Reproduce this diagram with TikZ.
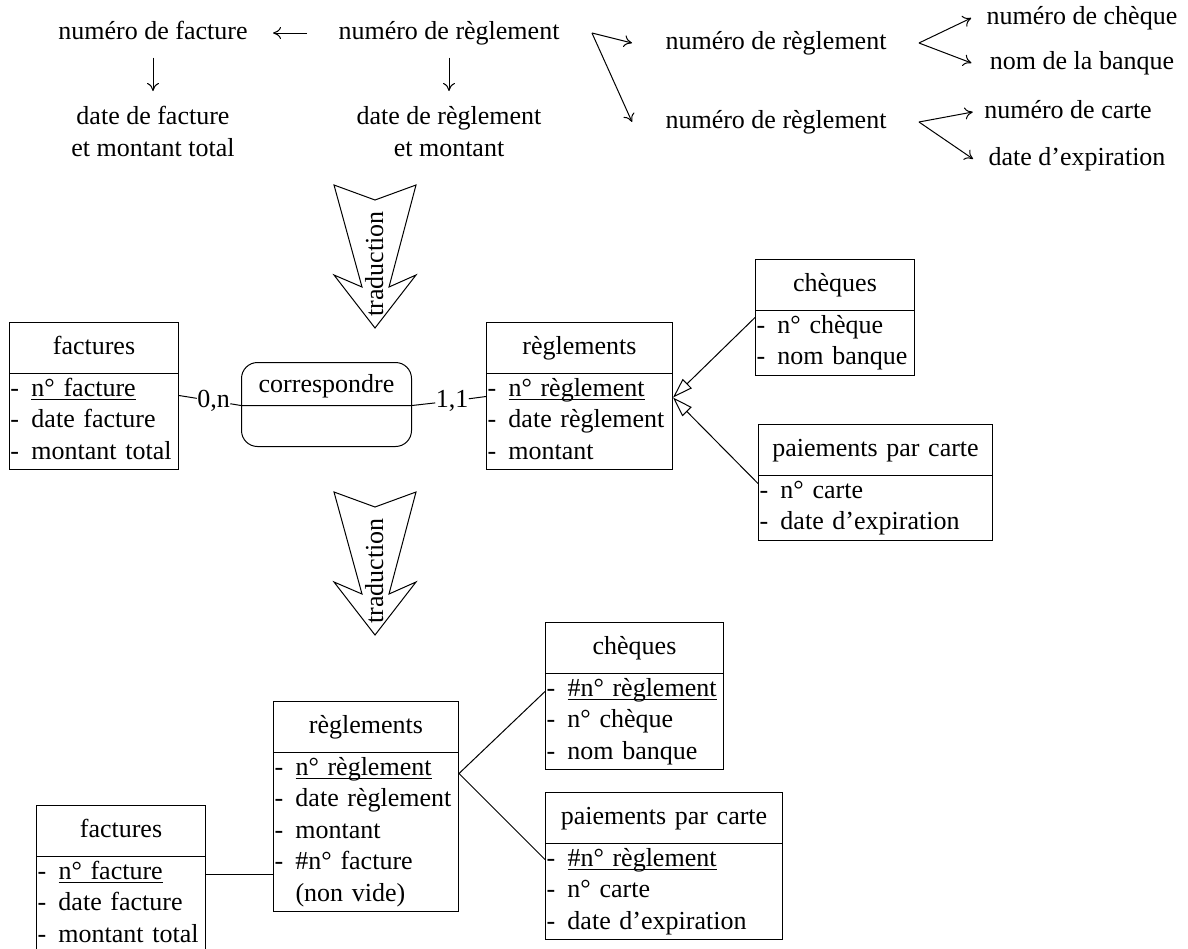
\documentclass[tikz,border=0pt]{standalone}
\usepackage{fontspec}
\setmainfont{Liberation Serif}
\usetikzlibrary{arrows.meta,shapes.multipart}

% struts for the rows and the titles of the boxes
\newcommand{\rs}{\rule[-4.875pt]{0pt}{15.75pt}}
\newcommand{\ts}{\rule[-9.375pt]{0pt}{24.75pt}}
\newcommand{\titre}[1]{\makebox[\linewidth]{\ts #1}}
\newcommand{\att}[1]{\rs\makebox[10.5pt][l]{-}#1}
\newcommand{\cle}[1]{\setbox0\hbox{#1}\rlap{\rule[-2pt]{\wd0}{0.5pt}}\box0}

\tikzset{
  lab/.style={inner sep=0pt,text height=9pt,text depth=3pt},
  twoline/.style={inner sep=0pt,align=center,anchor=north,font=\fontsize{13}{16}\selectfont},
  entity/.style={draw,rectangle split,rectangle split parts=2,anchor=north west,
    inner xsep=0.5pt,inner ysep=0.125pt},
  inh/.style={-{Triangle[open,length=10pt,width=6.5pt]}},
  fl/.style={-{To[length=4pt,width=6pt]}}
}

\begin{document}
\begin{tikzpicture}[x=0.5pt,y=-0.5pt,line width=0.5pt,
  every node/.style={font=\fontsize{13}{15.75}\selectfont}]
\useasboundingbox (0,0) rectangle (1188,948);

% dependances
\node[lab] (nf) at (153,33) {numéro de facture};
\node[lab] (nr) at (449,33) {numéro de règlement};
\node[twoline] (df) at (153,106) {date de facture\\et montant total};
\node[twoline] (dr) at (449,106) {date de règlement\\et montant};
\draw[fl] ([xshift=-15.5pt]nr.west) -- ([xshift=12.5pt]nf.east);
\draw[fl] ([yshift=-6pt]nf.south) -- ([yshift=7.5pt]df.north);
\draw[fl] ([yshift=-6pt]nr.south) -- ([yshift=7.5pt]dr.north);

\node[lab] (nr1) at (776,43) {numéro de règlement};
\node[lab] (nr2) at (776,122) {numéro de règlement};
\node[lab] (nch) at (1082,18) {numéro de chèque};
\node[lab] (nbq) at (1082,63) {nom de la banque};
\node[lab] (nca) at (1068,112) {numéro de carte};
\node[lab] (dex) at (1077,159) {date d’expiration};

\coordinate (v0) at ([xshift=16pt]nr.east);
\draw[fl] (v0) -- ([xshift=-16.5pt]nr1.west);
\draw[fl] (v0) -- ([xshift=-16.5pt]nr2.west);
\coordinate (f1) at ([xshift=16pt]nr1.east);
\draw[fl] (f1) -- ([xshift=-7.5pt]nch.west);
\draw[fl] (f1) -- ([xshift=-9pt]nbq.west);
\coordinate (f2) at ([xshift=16pt]nr2.east);
\draw[fl] (f2) -- ([xshift=-5.5pt]nca.west);
\draw[fl] (f2) -- ([xshift=-7.5pt]dex.west);

% fleches traduction
\foreach \t/\n in {185/tr1,492/tr2}{
  \draw (334,\t) -- (375,\t+15) -- (416,\t) -- (389,\t+102) -- (416,\t+90)
    -- (375,\t+143) -- (334,\t+90) -- (362,\t+102) -- cycle;
  \node[lab,rotate=90] (\n) at (377,\t+79) {traduction};
}

% MCD
\node[entity,text width=83.5pt] (fac1) at (9,322) {\titre{factures}\nodepart{two}\raggedright\att{\cle{n° facture}}\\\att{date facture}\\\att{montant total}};
\node[entity,text width=92pt] (reg1) at (486,322) {\titre{règlements}\nodepart{two}\raggedright\att{\cle{n° règlement}}\\\att{date règlement}\\\att{montant}};
\node[entity,text width=78.5pt] (che1) at (755,259) {\titre{chèques}\nodepart{two}\raggedright\att{n° chèque}\\\att{nom banque}};
\node[entity,text width=116pt] (pay1) at (758,424) {\titre{paiements par carte}\nodepart{two}\raggedright\att{n° carte}\\\att{date d’expiration}};
\node[entity,rounded corners=8pt,text width=84pt] (rel) at (241,362) {\makebox[\linewidth]{\rule[-6.375pt]{0pt}{20.75pt}correspondre}\nodepart{two}\rule{0pt}{19.75pt}};

\node[lab] (c0n) at (213.5,401) {0,n};
\node[lab] (c11) at (452,401) {1,1};
\draw ([yshift=-11pt]fac1.text split east) -- (c0n) -- (rel.text split west);
\draw (rel.text split east) -- (c11) -- ([yshift=-11.5pt]reg1.text split west);
\draw[inh] ([yshift=-3.5pt]che1.text split west) -- ([yshift=-12pt]reg1.text split east);
\draw[inh] ([yshift=-4pt]pay1.text split west) -- ([yshift=-12pt]reg1.text split east);

% MLD
\node[entity,text width=83.5pt] (fac2) at (36,805) {\titre{factures}\nodepart{two}\raggedright\att{\cle{n° facture}}\\\att{date facture}\\\att{montant total}};
\node[entity,text width=91.5pt] (reg2) at (273,701) {\titre{règlements}\nodepart{two}\raggedright\att{\cle{n° règlement}}\\\att{date règlement}\\\att{montant}\\\att{\#n° facture}\\\rs\hspace*{10.5pt}(non vide)};
\node[entity,text width=88pt] (che2) at (545,622) {\titre{chèques}\nodepart{two}\raggedright\att{\cle{\#n° règlement}}\\\att{n° chèque}\\\att{nom banque}};
\node[entity,text width=117.5pt] (pay2) at (545,792) {\titre{paiements par carte}\nodepart{two}\raggedright\att{\cle{\#n° règlement}}\\\att{n° carte}\\\att{date d’expiration}};

\coordinate (k1) at ([yshift=-9pt]fac2.text split east);
\draw (k1) -- (k1 -| reg2.west);
\coordinate (k2) at ([yshift=-10.5pt]reg2.text split east);
\draw ([yshift=-9pt]che2.text split west) -- (k2) -- ([yshift=-8pt]pay2.text split west);
\end{tikzpicture}
\end{document}
